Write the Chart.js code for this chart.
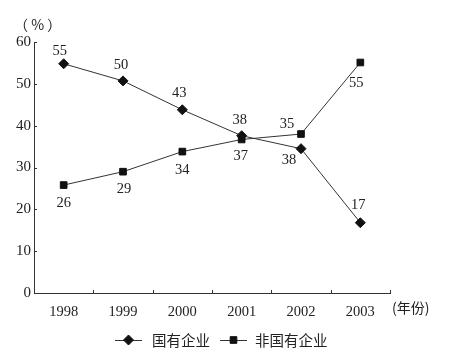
<!DOCTYPE html>
<html><head><meta charset="utf-8">
<script src="https://cdn.jsdelivr.net/npm/chart.js@4"></script>
<style>html,body{margin:0;padding:0;background:#fff;}#w{width:450px;height:358px;position:relative;}</style>
</head><body><div id="w"><canvas id="c" width="450" height="358"></canvas></div>
<script>
const categories = ['1998','1999','2000','2001','2002','2003'];
const seriesNames = ['国有企业','非国有企业'];
const stateOwned = [54.8, 50.7, 43.8, 37.6, 34.5, 16.8];
const nonStateOwned = [25.8, 29.0, 33.8, 36.7, 38.0, 55.1];
const stateLabels = ['55','50','43','38','38','17'];
const nonStateLabels = ['26','29','34','37','35','55'];
const yTicks = [0,10,20,30,40,50,60];
const yUnit = '（ % ）';
const xUnit = '(年份)';

const serif = '"Liberation Serif", "DejaVu Serif", serif';
const cjk = '"Noto Sans CJK SC", sans-serif';

// label offsets (dx, dy) relative to point, per series
const stateOff = [[-4,-13],[-2,-16],[-3,-17],[-2,-16],[-12,12],[-2,-18]];
const nonOff = [[0,18],[1,18],[0,19],[-1,17],[-14,-10],[-4,21]];

const labelPlugin = {
  id:'custom',
  afterDatasetsDraw(chart){
    const ctx = chart.ctx;
    const area = chart.chartArea;
    const ys = chart.scales.y, xs = chart.scales.x;
    ctx.save();
    // inward ticks
    ctx.strokeStyle = '#333'; ctx.lineWidth = 1;
    ctx.beginPath();
    yTicks.forEach(v=>{ const py = Math.round(ys.getPixelForValue(v))+0.5; ctx.moveTo(area.left, py); ctx.lineTo(area.left+3, py); });
    for(let i=1;i<=categories.length;i++){
      const px = Math.round(xs.getPixelForValue(i-0.5))+0.5;
      ctx.moveTo(px, area.bottom); ctx.lineTo(px, area.bottom-3);
    }
    ctx.stroke();
    // data labels
    ctx.fillStyle = '#222';
    ctx.font = '14.5px ' + serif;
    ctx.textAlign = 'center'; ctx.textBaseline = 'middle';
    [[0,stateLabels,stateOff],[1,nonStateLabels,nonOff]].forEach(([di,labs,off])=>{
      const meta = chart.getDatasetMeta(di);
      meta.data.forEach((pt,i)=>{ ctx.fillText(labs[i], pt.x+off[i][0], pt.y+off[i][1]); });
    });
    // units
    ctx.font = '14px ' + cjk;
    ctx.textAlign = 'left';
    ctx.fillText(yUnit, 14, 25);
    ctx.fillText(xUnit, area.right+2, 308);
    // legend
    const items = [[0,115,152],[1,220,255]];
    items.forEach(([di,lx,tx])=>{
      const ds = chart.data.datasets[di];
      const y = 340;
      ctx.strokeStyle = ds.borderColor; ctx.lineWidth = 1;
      ctx.beginPath(); ctx.moveTo(lx, y+0.5); ctx.lineTo(lx+27, y+0.5); ctx.stroke();
      ctx.fillStyle = ds.pointBackgroundColor; ctx.strokeStyle = ds.pointBorderColor;
      Chart.helpers.drawPoint(ctx, {pointStyle: ds.pointStyle, radius: ds.pointRadius, borderWidth: 1}, lx+13.5, y);
      ctx.fillStyle = '#222';
      ctx.font = '14.5px ' + cjk;
      ctx.textBaseline = 'middle';
      ctx.fillText(seriesNames[di], tx, y);
    });
    ctx.restore();
  }
};

new Chart(document.getElementById('c'), {
  type:'line',
  data:{
    labels: categories,
    datasets:[
      {label:seriesNames[0], data:stateOwned, borderColor:'#333', borderWidth:1, pointStyle:'rectRot', pointRadius:5, pointBackgroundColor:'#111', pointBorderColor:'#111', pointBorderWidth:1, tension:0},
      {label:seriesNames[1], data:nonStateOwned, borderColor:'#333', borderWidth:1, pointStyle:'rect', pointRadius:4.7, pointBackgroundColor:'#111', pointBorderColor:'#111', pointBorderWidth:1, tension:0}
    ]
  },
  options:{
    responsive:false, animation:false,
    layout:{padding:{left:0,right:60,top:42,bottom:0}},
    plugins:{legend:{display:false}, tooltip:{enabled:false}},
    scales:{
      x:{offset:true, grid:{display:false, drawTicks:false}, border:{display:true,color:'#333',width:1},
         ticks:{padding:10, color:'#222', font:{family:serif,size:14.5}},
         afterFit(s){ s.height = 65; }},
      y:{min:0,max:60, grid:{display:false, drawTicks:false}, border:{display:true,color:'#333',width:1},
         afterBuildTicks(s){ s.ticks = yTicks.map(v=>({value:v})); },
         ticks:{padding:3, color:'#222', font:{family:serif,size:15}},
         afterFit(s){ s.width = 34; }}
    }
  },
  plugins:[labelPlugin]
});
</script></body></html>
